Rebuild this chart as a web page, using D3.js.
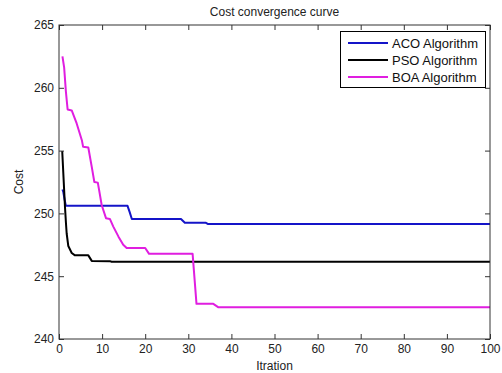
<!DOCTYPE html>
<html>
<head>
<meta charset="utf-8">
<script src="https://cdn.jsdelivr.net/npm/d3@7"></script>
<style>
  html, body { margin: 0; padding: 0; background: #fff; }
  svg { display: block; font-family: "Liberation Sans", Arial, sans-serif; }
</style>
</head>
<body>
<svg id="chart" width="502" height="373"></svg>
<script>
// Convergence histories (iteration, best cost) for each algorithm
const acoIter = [0.8, 1.0, 1.3, 1.6, 15.9, 16.4, 16.9, 28.3, 29.2, 34.1, 34.6, 100];
const acoCost = [251.9, 251.7, 251.1, 250.6, 250.6, 250.1, 249.55, 249.55, 249.25, 249.25, 249.15, 249.15];

const psoIter = [0.75, 1.0, 1.23, 1.39, 1.62, 1.78, 2.16, 2.95, 3.7, 6.8, 7.6, 11.8, 12.2, 100];
const psoCost = [254.95, 253.2, 251.6, 250.5, 249.2, 248.4, 247.4, 246.85, 246.66, 246.66, 246.22, 246.2, 246.15, 246.15];

const boaIter = [0.8, 1.2, 1.6, 2.0, 2.95, 4.1, 5.3, 5.6, 6.8, 7.6, 8.2, 9.0, 9.3, 9.9, 10.9, 11.8, 12.6, 13.8, 14.9, 15.7, 20.0, 20.9, 31.0, 31.9, 35.8, 37.0, 100];
const boaCost = [262.5, 261.6, 259.7, 258.27, 258.2, 257.16, 255.83, 255.3, 255.25, 253.7, 252.5, 252.45, 251.87, 250.67, 249.62, 249.56, 248.95, 248.15, 247.5, 247.24, 247.24, 246.78, 246.78, 242.8, 242.8, 242.52, 242.52];

const seriesNames = ["ACO Algorithm", "PSO Algorithm", "BOA Algorithm"];
const xTicks = [0, 10, 20, 30, 40, 50, 60, 70, 80, 90, 100];
const yTicks = [240, 245, 250, 255, 260, 265];

const colors = ["#1414c8", "#000000", "#e01ee0"];

const svg = d3.select("#chart");
const margin = { left: 59, right: 12, top: 25, bottom: 34 };
const W = 502, H = 373;
const x = d3.scaleLinear().domain([0, 100]).range([margin.left, W - margin.right]);
const y = d3.scaleLinear().domain([240, 265]).range([H - margin.bottom, margin.top]);

const axisColor = "#333";
const tickLen = 5;

// Axes: ticks point inward on all four sides (boxed plot)
const gx = svg.append("g").attr("transform", `translate(0,${y(240)})`)
  .call(d3.axisBottom(x).tickValues(xTicks).tickSize(-tickLen).tickPadding(5).tickFormat(d3.format("d")));
const gxTop = svg.append("g").attr("transform", `translate(0,${y(265)})`)
  .call(d3.axisTop(x).tickValues(xTicks).tickSize(-tickLen).tickFormat(""));
const gy = svg.append("g").attr("transform", `translate(${x(0)},0)`)
  .call(d3.axisLeft(y).tickValues(yTicks).tickSize(-tickLen).tickPadding(5).tickFormat(d3.format("d")));
const gyRight = svg.append("g").attr("transform", `translate(${x(100)},0)`)
  .call(d3.axisRight(y).tickValues(yTicks).tickSize(-tickLen).tickFormat(""));

[gx, gxTop, gy, gyRight].forEach(g => {
  g.select(".domain").remove();
  g.selectAll(".tick line").attr("stroke", axisColor);
  g.selectAll(".tick text").attr("fill", "#222").style("font-size", "12px")
    .style("font-family", "'Liberation Sans', Arial, sans-serif");
});

// Lines
const line = d3.line().x(d => x(d[0])).y(d => y(d[1]));
const series = [
  d3.zip(acoIter, acoCost),
  d3.zip(psoIter, psoCost),
  d3.zip(boaIter, boaCost)
];
const plotG = svg.append("g");
series.forEach((pts, i) => {
  plotG.append("path").datum(pts)
    .attr("d", line)
    .attr("fill", "none")
    .attr("stroke", colors[i])
    .attr("stroke-width", 2)
    .attr("stroke-linejoin", "round");
});

// Box around the plot
svg.append("rect")
  .attr("x", x(0)).attr("y", y(265))
  .attr("width", x(100) - x(0)).attr("height", y(240) - y(265))
  .attr("fill", "none").attr("stroke", axisColor).attr("stroke-width", 1);

// Title and axis labels
svg.append("text").attr("x", (x(0) + x(100)) / 2).attr("y", 16)
  .attr("text-anchor", "middle").style("font-size", "12px").attr("fill", "#222")
  .text("Cost convergence curve");
svg.append("text").attr("x", (x(0) + x(100)) / 2).attr("y", 370)
  .attr("text-anchor", "middle").style("font-size", "12px").attr("fill", "#222")
  .text("Itration");
svg.append("text")
  .attr("transform", `translate(23,${(y(240) + y(265)) / 2}) rotate(-90)`)
  .attr("text-anchor", "middle").style("font-size", "12px").attr("fill", "#222")
  .text("Cost");

// Legend
const lg = svg.append("g");
lg.append("rect").attr("x", 340.5).attr("y", 31.5).attr("width", 145).attr("height", 56)
  .attr("fill", "#fff").attr("stroke", "#000").attr("stroke-width", 1);
seriesNames.forEach((name, i) => {
  const cy = 43 + i * 17;
  lg.append("line").attr("x1", 348).attr("x2", 388).attr("y1", cy).attr("y2", cy)
    .attr("stroke", colors[i]).attr("stroke-width", 2);
  lg.append("text").attr("x", 392).attr("y", cy + 4.5)
    .style("font-size", "13px").attr("fill", "#111").text(name);
});
</script>
</body>
</html>
